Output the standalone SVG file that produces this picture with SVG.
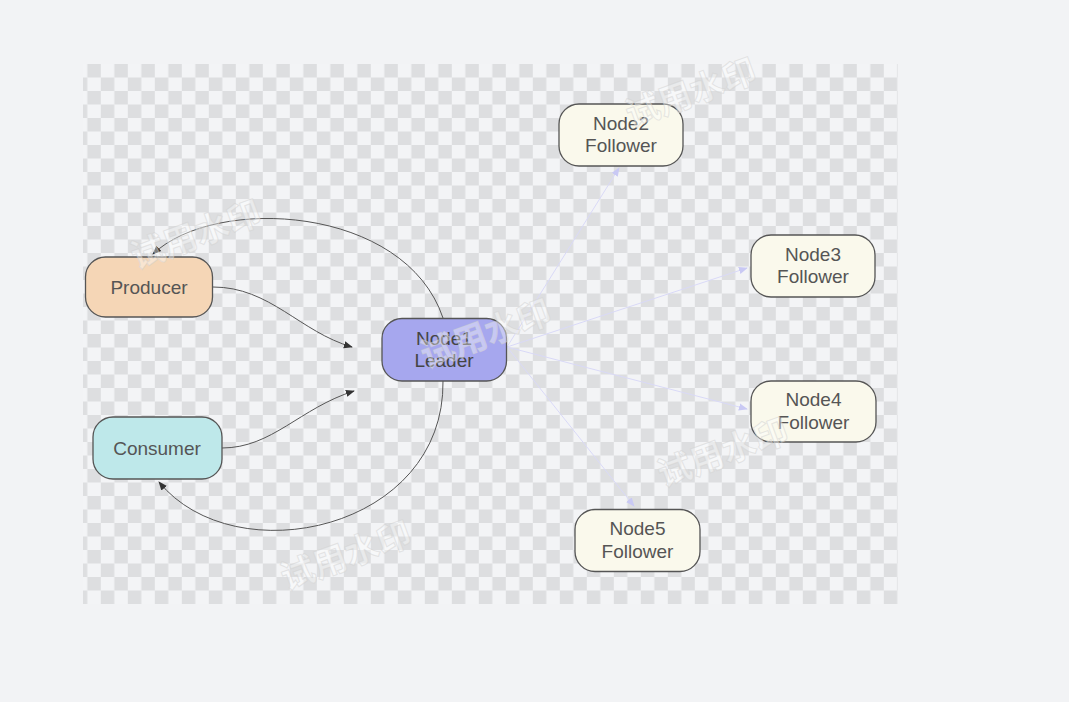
<svg xmlns="http://www.w3.org/2000/svg" width="1069" height="702" viewBox="0 0 1069 702">
<defs>
<pattern id="checker" x="73.8" y="64" width="27" height="27" patternUnits="userSpaceOnUse">
<rect x="0" y="0" width="27" height="27" fill="#f3f4f6"/>
<rect x="13.5" y="0" width="13.5" height="13.5" fill="#dddee0"/>
<rect x="0" y="13.5" width="13.5" height="13.5" fill="#dddee0"/>
</pattern>
<marker id="arrDark" viewBox="0 0 10 10" refX="9" refY="5" markerWidth="9" markerHeight="9" markerUnits="userSpaceOnUse" orient="auto">
<path d="M0,1 L10,5 L0,9 Z" fill="#333"/>
</marker>
<marker id="arrLight" viewBox="0 0 10 10" refX="9" refY="5" markerWidth="9" markerHeight="9" markerUnits="userSpaceOnUse" orient="auto">
<path d="M0,1 L10,5 L0,9 Z" fill="#c9c9f4"/>
</marker>
</defs>
<style>
.node rect { stroke: #555; stroke-width: 1.3; }
.label { font-family: "Liberation Sans", Arial, sans-serif; font-size: 19px; fill: #555; text-anchor: middle; }
.dark { stroke: #555; stroke-width: 1; fill: none; marker-end: url(#arrDark); }
.light { stroke: #d9d9f7; stroke-width: 1; fill: none; marker-end: url(#arrLight); }
.wm { font-family: "Noto Sans CJK SC", sans-serif; font-size: 34px; font-weight: bold; fill: #ffffff; fill-opacity: 0.4; stroke: #cfcfcf; stroke-width: 1; stroke-opacity: 0.5; text-anchor: middle; }
</style>
<rect x="0" y="0" width="1069" height="702" fill="#f2f3f5"/>
<rect x="83" y="64" width="815" height="540" fill="url(#checker)"/>

<g id="connectors">
<path class="dark" d="M213,287 C270,287 300,332 352,347"/>
<path class="dark" d="M222,448 C272,448 300,408 354,391"/>
<path class="dark" d="M443,318 C405,205 215,195 153,254"/>
<path class="dark" d="M443,381 C445,530 235,575 159,482"/>
<path class="light" d="M507,347 L619,168"/>
<path class="light" d="M507,347 L747,268"/>
<path class="light" d="M507,347 L747,409"/>
<path class="light" d="M507,347 L634,506"/>
</g>

<g id="producer" class="node">
<rect x="85.5" y="257" width="127" height="60" rx="20" fill="#f5d6b6"/>
<text class="label" x="149" y="293.5">Producer</text>
</g>
<g id="consumer" class="node">
<rect x="93" y="417" width="129" height="62" rx="20" fill="#bee8ea"/>
<text class="label" x="157" y="454.5">Consumer</text>
</g>
<g id="leader" class="node">
<rect x="382" y="318.5" width="124.5" height="62.5" rx="20" fill="#a6a7ee"/>
<text class="label" x="444" y="344.5" style="fill:#444">Node1</text>
<text class="label" x="444" y="367" style="fill:#444">Leader</text>
</g>
<g id="node2" class="node">
<rect x="559" y="104" width="124" height="62" rx="20" fill="#faf9ec"/>
<text class="label" x="621" y="129.5">Node2</text>
<text class="label" x="621" y="152">Follower</text>
</g>
<g id="node3" class="node">
<rect x="751" y="235" width="124" height="62" rx="20" fill="#faf9ec"/>
<text class="label" x="813" y="260.5">Node3</text>
<text class="label" x="813" y="283">Follower</text>
</g>
<g id="node4" class="node">
<rect x="751" y="381" width="125" height="61" rx="20" fill="#faf9ec"/>
<text class="label" x="813.5" y="406">Node4</text>
<text class="label" x="813.5" y="428.5">Follower</text>
</g>
<g id="node5" class="node">
<rect x="575" y="509.5" width="125" height="62" rx="20" fill="#faf9ec"/>
<text class="label" x="637.5" y="535">Node5</text>
<text class="label" x="637.5" y="557.5">Follower</text>
</g>

<g id="watermarks">
<text class="wm" transform="translate(200,246) rotate(-20)">试用水印</text>
<text class="wm" transform="translate(695,104) rotate(-20)">试用水印</text>
<text class="wm" transform="translate(490,345) rotate(-20)">试用水印</text>
<text class="wm" transform="translate(727,464) rotate(-20)">试用水印</text>
<text class="wm" transform="translate(350,567) rotate(-20)">试用水印</text>
</g>
</svg>
